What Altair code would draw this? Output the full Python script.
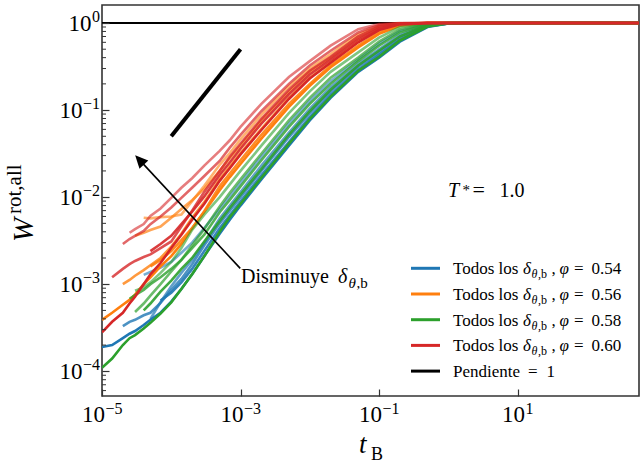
import math
import altair as alt
import pandas as pd

N = None
# time grid (t_B)
T = [1e-5, 1.4e-5, 2e-5, 2.5e-5, 3e-5, 4e-5, 5e-5, 7e-5, 1e-4, 1.4e-4, 2e-4, 3e-4,
     5e-4, 7e-4, 1e-3, 2e-3, 5e-3, 1e-2, 2e-2, 5e-2, 0.1, 0.2, 0.5, 1, 2, 5, 600]

# phi = 0.54 (blue)
B1 = [N, N, N, N, N, 1.28e-3, 1.38e-3, 1.55e-3, 1.8e-3, 2.3e-3, 3.0e-3, 4.4e-3, 0.0073, 0.0102, 0.0146,
      0.029, 0.070, 0.127, 0.215, 0.38, 0.58, 0.81, 0.98, 0.998, 1, 1, 1]
B2 = [N, N, N, N, N, N, 4.0e-4, 6.2e-4, 9.5e-4, 1.35e-3, 1.9e-3, 3.0e-3, 0.0057, 0.008, 0.0114,
      0.023, 0.055, 0.104, 0.183, 0.34, 0.50, 0.73, 0.957, 0.995, 1, 1, 1]
B3 = [N, N, 3.3e-4, 3.7e-4, 3.9e-4, 4.4e-4, 4.7e-4, 6.1e-4, 8.6e-4, 1.15e-3, 1.7e-3, 2.8e-3, 0.005, 0.007, 0.010,
      0.020, 0.049, 0.092, 0.164, 0.315, 0.46, 0.68, 0.94, 0.991, 0.999, 1, 1]
B4 = [N, N, N, N, N, N, N, 6.5e-4, 8.0e-4, 1.05e-3, 1.5e-3, 2.4e-3, 0.0044, 0.0062, 0.0089,
      0.0178, 0.043, 0.083, 0.150, 0.29, 0.43, 0.64, 0.92, 0.988, 0.999, 1, 1]
B5 = [1.9e-4, 2.0e-4, 2.4e-4, 2.7e-4, 2.9e-4, 3.4e-4, 3.9e-4, 4.7e-4, 6.3e-4, 8.8e-4, 1.3e-3, 2.1e-3, 0.0038, 0.0055, 0.008,
      0.016, 0.039, 0.076, 0.138, 0.275, 0.40, 0.61, 0.90, 0.985, 0.999, 1, 1]
# phi = 0.56 (orange)
O1 = [N, N, N, N, N, 5.8e-3, 5.7e-3, 5.9e-3, 6.0e-3, 6.3e-3, 9.0e-3, 0.0135, 0.0235, 0.032, 0.046,
      0.088, 0.187, 0.30, 0.44, 0.74, 0.93, 0.99, 1, 1, 1, 1, 1]
O2 = [N, N, N, N, 3.6e-3, 3.9e-3, 4.2e-3, 4.6e-3, 5.8e-3, 7.3e-3, 9.2e-3, 0.0125, 0.020, 0.028, 0.039,
      0.076, 0.163, 0.275, 0.40, 0.68, 0.90, 0.985, 1, 1, 1, 1, 1]
O3 = [N, N, 1.0e-3, 1.12e-3, 1.25e-3, 1.45e-3, 1.65e-3, 2.0e-3, 2.7e-3, 3.8e-3, 5.8e-3, 8.8e-3, 0.016, 0.0225, 0.032,
      0.061, 0.138, 0.235, 0.355, 0.61, 0.84, 0.97, 0.999, 1, 1, 1, 1]
O4 = [N, N, N, N, N, N, 1.6e-3, 1.9e-3, 2.4e-3, 3.2e-3, 4.4e-3, 6.9e-3, 0.0133, 0.0187, 0.0265,
      0.052, 0.118, 0.20, 0.325, 0.55, 0.78, 0.95, 0.997, 1, 1, 1, 1]
O5 = [3.9e-4, 4.7e-4, 5.8e-4, 6.6e-4, 7.6e-4, 1.0e-3, 1.2e-3, 1.6e-3, 2.1e-3, 2.9e-3, 4.4e-3, 6.8e-3, 0.012, 0.017, 0.024,
      0.047, 0.109, 0.19, 0.31, 0.525, 0.75, 0.93, 0.996, 1, 1, 1, 1]
# phi = 0.58 (green)
G1 = [N, N, N, N, 8.4e-4, 9.2e-4, 1.05e-3, 1.35e-3, 1.8e-3, 2.6e-3, 4.2e-3, 6.3e-3, 0.0100, 0.014, 0.020,
      0.039, 0.092, 0.164, 0.275, 0.46, 0.68, 0.90, 0.991, 1, 1, 1, 1]
G2 = [N, N, N, N, 4.8e-4, 6.0e-4, 7.4e-4, 1.0e-3, 1.4e-3, 1.9e-3, 2.8e-3, 4.3e-3, 0.0078, 0.0112, 0.016,
      0.0315, 0.076, 0.138, 0.235, 0.40, 0.61, 0.84, 0.985, 0.999, 1, 1, 1]
G3 = [N, N, N, 6.8e-4, 7.5e-4, 8.6e-4, 1.0e-3, 1.2e-3, 1.5e-3, 1.9e-3, 2.6e-3, 3.7e-3, 0.0067, 0.0093, 0.0133,
      0.0265, 0.064, 0.118, 0.20, 0.365, 0.55, 0.78, 0.97, 0.997, 1, 1, 1]
G4 = [N, N, N, N, N, 5.0e-4, 6.0e-4, 8.2e-4, 1.1e-3, 1.5e-3, 2.0e-3, 3.1e-3, 0.0053, 0.0075, 0.0107,
      0.021, 0.052, 0.097, 0.171, 0.325, 0.48, 0.70, 0.95, 0.993, 1, 1, 1]
G5 = [1.1e-4, 1.4e-4, 2.0e-4, 2.4e-4, 2.6e-4, 3.1e-4, 3.6e-4, 4.6e-4, 6.2e-4, 8.8e-4, 1.3e-3, 2.1e-3, 0.0040, 0.0059, 0.0084,
      0.0167, 0.041, 0.079, 0.143, 0.283, 0.41, 0.63, 0.91, 0.987, 0.999, 1, 1]
# phi = 0.60 (red)
R1 = [N, N, N, 3.9e-3, 4.3e-3, 4.9e-3, 6.1e-3, 7.4e-3, 0.0098, 0.0128, 0.0165, 0.023, 0.034, 0.045, 0.064,
      0.118, 0.24, 0.365, 0.55, 0.85, 0.97, 0.997, 1, 1, 1, 1, 1]
R2 = [N, N, 2.9e-3, 3.3e-3, 3.6e-3, 4.1e-3, 4.9e-3, 6.0e-3, 7.6e-3, 0.0098, 0.0128, 0.0175, 0.026, 0.037, 0.052,
      0.097, 0.20, 0.325, 0.48, 0.78, 0.95, 0.993, 1, 1, 1, 1, 1]
R3 = [N, 1.2e-3, 1.5e-3, 1.7e-3, 1.85e-3, 2.05e-3, 2.2e-3, 2.6e-3, 3.1e-3, 4.6e-3, 7.0e-3, 0.0115, 0.020, 0.029, 0.041,
      0.079, 0.171, 0.283, 0.41, 0.70, 0.91, 0.987, 1, 1, 1, 1, 1]
R4 = [N, N, N, N, N, N, 2.4e-3, 2.9e-3, 3.6e-3, 4.9e-3, 6.8e-3, 0.0102, 0.018, 0.025, 0.036,
      0.070, 0.152, 0.256, 0.38, 0.65, 0.87, 0.98, 1, 1, 1, 1, 1]
R5 = [2.8e-4, 3.7e-4, 4.7e-4, 6.0e-4, 7.2e-4, 1.0e-3, 1.3e-3, 1.75e-3, 2.6e-3, 3.7e-3, 5.5e-3, 8.4e-3, 0.0154, 0.0215, 0.031,
      0.059, 0.134, 0.23, 0.35, 0.60, 0.83, 0.965, 0.999, 1, 1, 1, 1]

FAMILY_PHI = ["0.54", "0.56", "0.58", "0.60"]
FAMILY_COLORS = ["#1f77b4", "#ff7f0e", "#2ca02c", "#d62728"]
CURVE_ALPHA = [0.6, 0.7, 0.8, 0.9, 1.0]
FAMILIES = [[B1, B2, B3, B4, B5], [O1, O2, O3, O4, O5], [G1, G2, G3, G4, G5], [R1, R2, R3, R4, R5]]

ONE_T = [1e-5, 567]
ONE_W = [1.0, 1.0]
SLOPE_T = [1e-4, 1e-3]
SLOPE_W = [0.05, 0.5]
ARROW_TAIL = [9.9e-4, 1.52e-3]
ARROW_HEAD = [3.61e-5, 0.0259]

X_TICKS = [1e-5, 1e-3, 1e-1, 1e1]
X_TICK_EXP = ["−5", "−3", "−1", "1"]
Y_TICKS = [1e-4, 1e-3, 1e-2, 1e-1, 1.0]
Y_TICK_EXP = ["−4", "−3", "−2", "−1", "0"]
MINOR_Y = [6e-5, 7e-5, 8e-5, 9e-5,
           2e-4, 3e-4, 4e-4, 5e-4, 6e-4, 7e-4, 8e-4, 9e-4,
           2e-3, 3e-3, 4e-3, 5e-3, 6e-3, 7e-3, 8e-3, 9e-3,
           2e-2, 3e-2, 4e-2, 5e-2, 6e-2, 7e-2, 8e-2, 9e-2,
           0.2, 0.3, 0.4, 0.5, 0.6, 0.7, 0.8, 0.9]

# ---- layout ----
PW, PH = 537, 391
LEFT, TOP = 102, 5
FONT = "Liberation Serif, DejaVu Serif, serif"
BASE_SIZE, EXP_SIZE = 23, 16
xs = alt.Scale(type="log", domain=[1e-5, 567], nice=False)
ys = alt.Scale(type="log", domain=[5.2e-5, 1.61], nice=False)

x_axis = alt.Axis(values=X_TICKS, labels=False, tickSize=7, offset=-7, domain=False, grid=False,
                  tickColor="#333", tickWidth=1.2, title=None, zindex=1)
y_axis = alt.Axis(values=Y_TICKS, labels=False, tickSize=7, offset=-7, domain=False, grid=False,
                  tickColor="#333", tickWidth=1.2, title=None, zindex=1)


def X(field):
    return alt.X(field, scale=xs, axis=x_axis)


def Y(field):
    return alt.Y(field, scale=ys, axis=y_axis)


def exp_width(s):
    return sum(0.564 if ch == "−" else 0.5 for ch in s) * EXP_SIZE


layers = []
layers.append(alt.Chart(pd.DataFrame({"t": ONE_T, "W": ONE_W})).mark_line(color="black", strokeWidth=2).encode(
    x=X("t:Q"), y=Y("W:Q")))

for fi, fam in enumerate(FAMILIES):
    for ci, vals in enumerate(fam):
        df = pd.DataFrame({"t": T, "W": [float("nan") if v is None else v for v in vals]}).dropna()
        layers.append(alt.Chart(df).mark_line(color=FAMILY_COLORS[fi], opacity=CURVE_ALPHA[ci],
                                              strokeWidth=2.6, clip=True).encode(x=X("t:Q"), y=Y("W:Q")))

layers.append(alt.Chart(pd.DataFrame({"t": SLOPE_T, "W": SLOPE_W})).mark_line(
    color="black", strokeWidth=4).encode(x=X("t:Q"), y=Y("W:Q")))

arrow_df = pd.DataFrame({"t": [ARROW_TAIL[0]], "W": [ARROW_TAIL[1]], "t2": [ARROW_HEAD[0]], "W2": [ARROW_HEAD[1]]})
layers.append(alt.Chart(arrow_df).mark_rule(color="black", strokeWidth=1.6).encode(
    x=X("t:Q"), y=Y("W:Q"), x2="t2:Q", y2="W2:Q"))
layers.append(alt.Chart(arrow_df).mark_point(shape="M0,-1L-0.75,0.6L0.75,0.6Z", size=256, angle=317.1,
                                             filled=True, color="black", opacity=1, strokeWidth=0).encode(
    x=X("t2:Q"), y=Y("W2:Q")))

layers.append(alt.Chart(pd.DataFrame({"v": MINOR_Y})).mark_rule(color="#333", strokeWidth=1).encode(
    y=Y("v:Q"), x=alt.value(0), x2=alt.value(4)))

# ---- tick labels (10 with a raised exponent) ----
ylab = pd.DataFrame({"v": Y_TICKS, "exp": Y_TICK_EXP})
ylab["base"] = "10"
ylab["px"] = [-2.5 - exp_width(e) for e in Y_TICK_EXP]
layers.append(alt.Chart(ylab).mark_text(align="right", baseline="alphabetic", font=FONT, fontSize=BASE_SIZE,
                                        color="black", dy=7.5).encode(
    y=Y("v:Q"), x=alt.X("px:Q", scale=None, axis=None), text="base:N"))
layers.append(alt.Chart(ylab).mark_text(align="left", baseline="alphabetic", font=FONT, fontSize=EXP_SIZE,
                                        color="black", dy=-1.5, dx=0.5).encode(
    y=Y("v:Q"), x=alt.X("px:Q", scale=None, axis=None), text="exp:N"))

xlab = pd.DataFrame({"v": X_TICKS, "exp": X_TICK_EXP})
xlab["base"] = "10"
xlab["w"] = [exp_width(e) for e in X_TICK_EXP]
for w in sorted(set(xlab["w"])):
    sub = xlab[xlab["w"] == w]
    off = (BASE_SIZE - w) / 2.0
    layers.append(alt.Chart(sub).mark_text(align="right", baseline="alphabetic", font=FONT, fontSize=BASE_SIZE,
                                           color="black", dx=off).encode(
        x=X("v:Q"), y=alt.value(422 - TOP), text="base:N"))
    layers.append(alt.Chart(sub).mark_text(align="left", baseline="alphabetic", font=FONT, fontSize=EXP_SIZE,
                                           color="black", dx=off + 0.5).encode(
        x=X("v:Q"), y=alt.value(414 - TOP), text="exp:N"))

# ---- legend ----
rows_y = [268.3 + 25.7 * i for i in range(5)]
leg_colors = FAMILY_COLORS + ["black"]
leg_df = pd.DataFrame({"x1": [411 - LEFT] * 5, "x2": [440 - LEFT] * 5,
                       "y": [r - TOP for r in rows_y], "color": leg_colors[:5]})
layers.append(alt.Chart(leg_df).mark_rule(strokeWidth=3).encode(
    x=alt.X("x1:Q", scale=None, axis=None), x2="x2:Q", y=alt.Y("y:Q", scale=None, axis=None),
    color=alt.Color("color:N", scale=None)))

roman, italic, rot_roman, rot_italic = [], [], [], []


def put(lst, text, x, y, size):
    lst.append({"text": text, "x": x - LEFT, "y": y - TOP, "size": size})


put(italic, "T", 448, 197, 20)
put(roman, "*", 462.5, 195, 15)
put(roman, "=", 472.5, 197, 22)
put(roman, "1.0", 499.5, 197, 20)
put(roman, "Disminuye", 241, 283, 20)
put(italic, "δ", 338, 283, 20)
put(italic, "θ", 348.5, 288, 15)
put(roman, ",b", 356.5, 288, 15)
for i, phi in enumerate(FAMILY_PHI):
    b = rows_y[i] + 6
    put(roman, "Todos los", 453, b, 17)
    put(italic, "δ", 523, b, 17)
    put(italic, "θ", 531.5, b + 4, 12)
    put(roman, ",b", 538, b + 4, 12)
    put(roman, ",", 551.5, b, 17)
    put(italic, "φ", 559.5, b, 17)
    put(roman, "=", 574, b, 17)
    put(roman, phi, 591.5, b, 17)
b = rows_y[4] + 6
put(roman, "Pendiente", 453, b, 17)
put(roman, "=", 528, b, 17)
put(roman, "1", 546.5, b, 17)
put(italic, "t", 359, 453, 27)
put(roman, "B", 371, 460, 18)
put(rot_italic, "W", 33, 242, 29)
put(rot_roman, "rot,all", 21, 214, 21)


def text_layer(rows, style, angle):
    kw = dict(align="left", baseline="alphabetic", font=FONT, color="black", fontStyle=style)
    if angle:
        kw["angle"] = angle
    return alt.Chart(pd.DataFrame(rows)).mark_text(**kw).encode(
        x=alt.X("x:Q", scale=None, axis=None), y=alt.Y("y:Q", scale=None, axis=None),
        text="text:N", size=alt.Size("size:Q", scale=None, legend=None))


layers.append(text_layer(roman, "normal", 0))
layers.append(text_layer(italic, "italic", 0))
layers.append(text_layer(rot_roman, "normal", 270))
layers.append(text_layer(rot_italic, "italic", 270))

chart = alt.layer(*layers).properties(
    width=PW, height=PH,
    padding={"left": LEFT, "top": TOP, "right": 1, "bottom": 70},
    autosize=alt.AutoSizeParams(type="none"),
    background="white",
).configure_view(stroke="#333", strokeWidth=1.6)

chart.save("out.html", embed_options={"renderer": "svg", "actions": False})
